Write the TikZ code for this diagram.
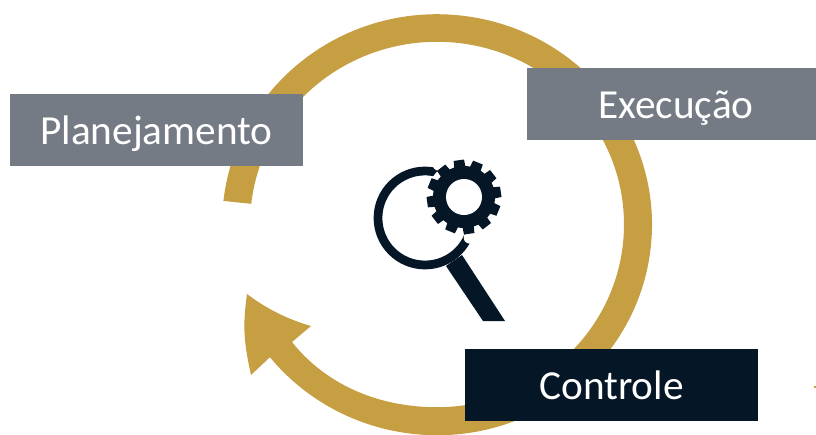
\documentclass[tikz,border=0pt]{standalone}
\usepackage{fontspec}
\setmainfont{Carlito}
\definecolor{ringgold}{HTML}{C59F41}
\definecolor{boxgray}{HTML}{747B85}
\definecolor{boxnavy}{HTML}{051626}
\tikzset{
  stagebox/.style={fill=boxgray,text=white,minimum width=5.86cm,minimum height=1.44cm,inner sep=0pt,text height=20pt,text depth=3pt,font=\fontsize{23.5}{24}\selectfont},
  lensring/.style={draw=boxnavy,line width=0.175cm}
}
\begin{document}
\begin{tikzpicture}[x=0.02cm,y=0.02cm]
  \useasboundingbox (0,0) rectangle (816,434);
  \clip (0,0) rectangle (816,434);
  % ring and arrow head
  \fill[ringgold]
    (223.4,233.1) arc[start angle=173.5,end angle=-141,x radius=215,y radius=210.5]
    -- (251,59) .. controls (243,95) and (243,110) .. (247,140)
    .. controls (268,124) and (290,114) .. (311,108)
    -- (292,92)
    .. controls (322,54) and (372,26.8) .. (437,26.8)
    arc[start angle=-90,end angle=173.5,x radius=187,y radius=182.7]
    -- cycle;
  % boxes
  \node[stagebox] (planejamento) at (156.5,304) {Planejamento};
  \node[stagebox,minimum width=5.78cm] (execucao) at (671.5,330) {\hspace{5pt}Execução};
  \node[stagebox,fill=boxnavy] (controle) at (611.5,49) {Controle};
  % magnifier
  \draw[lensring] (425,216) circle (47);
  \fill[boxnavy] (446,168) -- (462,179) -- (505,113) -- (483,113) -- cycle;
  % gear
  \begin{scope}[shift={(464,237)}]
    \foreach \a in {8,38,...,338} {
      \fill[white] (\a:41) circle (6);
    }
    \fill[white] (0,0) circle (37);
    \fill[boxnavy] (0,0) circle (31);
    \foreach \a in {8,38,...,338} {
      \fill[boxnavy] (\a-11:30) -- (\a-8:37.5) -- (\a+8:37.5) -- (\a+11:30) -- cycle;
    }
    \fill[white] (0,0) circle (18);
  \end{scope}
  % speck
  \fill[ringgold] (814,46) rectangle (816,48);
\end{tikzpicture}
\end{document}
